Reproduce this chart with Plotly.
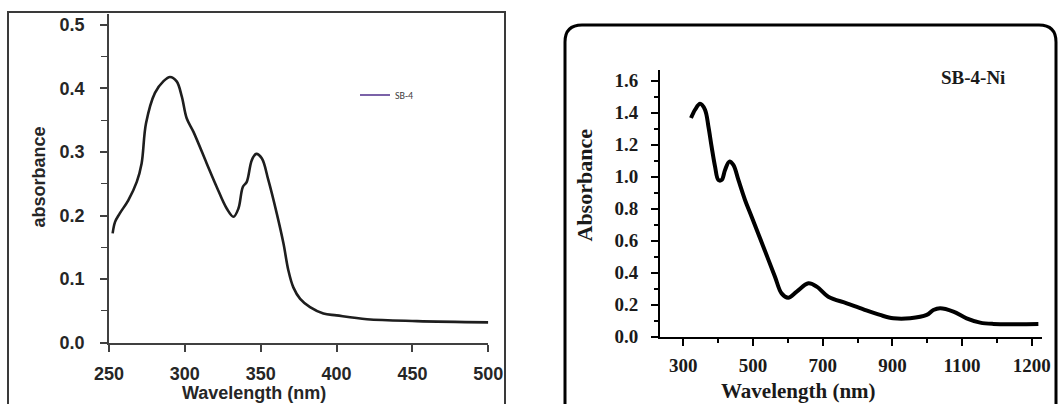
import plotly.graph_objects as go

W, H = 1058, 404

# ---- Left panel data (SB-4) ----
wl_sb4 = [252.4, 254, 257, 262.7, 268.3, 271.5, 274.4, 280.3, 285.8, 290.2, 294.6, 298,
          301.2, 305.6, 314.4, 321, 327.6, 332, 335.3, 338.2, 340.8, 344.1, 347, 350.7,
          355, 360.6, 365, 368.2, 371.5, 376, 382.5, 391.3, 400, 420, 453, 500]
abs_sb4 = [0.172, 0.19, 0.203, 0.224, 0.253, 0.282, 0.345, 0.393, 0.411, 0.418, 0.411, 0.387,
           0.353, 0.332, 0.282, 0.245, 0.211, 0.198, 0.211, 0.245, 0.253, 0.287, 0.297, 0.29,
           0.256, 0.203, 0.156, 0.114, 0.087, 0.069, 0.056, 0.046, 0.043, 0.037, 0.034, 0.032]
left_xticks = [250, 300, 350, 400, 450, 500]
left_yticks = [0.0, 0.1, 0.2, 0.3, 0.4, 0.5]
left_yticktext = ["0.0", "0.1", "0.2", "0.3", "0.4", "0.5"]
left_yminor = [0.05, 0.15, 0.25, 0.35, 0.45]

# ---- Right panel data (SB-4-Ni) ----
wl_ni = [322, 333.6, 348, 362, 372, 381, 391, 400.5, 410, 419.7, 432, 443.5, 458, 477, 496,
         529.6, 563, 582, 601, 625.5, 659, 683, 716, 769, 817, 864.6, 903, 951, 998.6,
         1017.6, 1037, 1075, 1113, 1152, 1190, 1319]
abs_ni = [1.367, 1.419, 1.456, 1.42, 1.314, 1.19, 1.064, 0.98, 0.98, 1.043, 1.095, 1.074,
          0.98, 0.855, 0.75, 0.563, 0.375, 0.271, 0.244, 0.282, 0.334, 0.313, 0.25, 0.209,
          0.171, 0.136, 0.115, 0.115, 0.136, 0.167, 0.178, 0.157, 0.115, 0.088, 0.08, 0.08]
right_xticks = [300, 500, 700, 900, 1100, 1300]
right_xticktext = ["300", "500", "700", "900", "1100", "1200"]
right_xminor = [400, 600, 800, 1000, 1200]
right_yticks = [0.0, 0.2, 0.4, 0.6, 0.8, 1.0, 1.2, 1.4, 1.6]
right_yticktext = ["0.0", "0.2", "0.4", "0.6", "0.8", "1.0", "1.2", "1.4", "1.6"]
right_yminor = [0.1, 0.3, 0.5, 0.7, 0.9, 1.1, 1.3, 1.5]


def px(x):
    return x / W


def py(y):
    return 1 - y / H


fig = go.Figure()
fig.add_trace(go.Scatter(x=wl_sb4, y=abs_sb4, mode="lines", line=dict(color="#1e1e1e", width=2.6),
                         line_shape="spline", showlegend=False, xaxis="x", yaxis="y"))
fig.add_trace(go.Scatter(x=[None], y=[None], mode="lines", name="SB-4",
                         line=dict(color="#7b62a8", width=2.2), xaxis="x", yaxis="y"))
fig.add_trace(go.Scatter(x=wl_ni, y=abs_ni, mode="lines", line=dict(color="black", width=4),
                         line_shape="spline", showlegend=False, xaxis="x2", yaxis="y2"))

sans = "Liberation Sans, Arial, sans-serif"
serif = "Liberation Serif, Times New Roman, serif"
lc = "#404040"

fig.update_layout(
    template="none",
    width=W, height=H, margin=dict(l=0, r=0, t=0, b=0, pad=0), autosize=False,
    paper_bgcolor="white", plot_bgcolor="rgba(0,0,0,0)",
    xaxis=dict(domain=[px(109), px(488.3)], range=[250, 500], anchor="y", automargin=False,
               tickmode="array", tickvals=left_xticks,
               showline=True, linecolor=lc, linewidth=1.6, ticks="outside", ticklen=7,
               tickwidth=1.6, tickcolor=lc, showgrid=False, zeroline=False,
               ticklabelstandoff=7,
               tickfont=dict(family=sans, size=18, color="#262626", weight="bold")),
    yaxis=dict(domain=[py(342.7), py(14)], range=[0, 0.517], anchor="x", automargin=False,
               tickmode="array", tickvals=left_yticks, ticktext=left_yticktext,
               showline=True, linecolor=lc, linewidth=1.6, ticks="outside", ticklen=7,
               tickwidth=1.6, tickcolor=lc, showgrid=False, zeroline=False,
               ticklabelstandoff=12,
               minor=dict(tickvals=left_yminor, ticks="outside", ticklen=6, tickwidth=1.4,
                          tickcolor=lc, showgrid=False),
               tickfont=dict(family=sans, size=18, color="#262626", weight="bold")),
    xaxis2=dict(domain=[px(660), px(1042.2)], range=[233, 1330], anchor="y2", automargin=False,
                tickmode="array", tickvals=right_xticks, ticktext=right_xticktext,
                showline=True, linecolor="black", linewidth=2, ticks="outside", ticklen=7,
                tickwidth=2, tickcolor="black", showgrid=False, zeroline=False,
                ticklabelstandoff=3,
                minor=dict(tickvals=right_xminor, ticks="outside", ticklen=4, tickwidth=1.6,
                           tickcolor="black", showgrid=False),
                tickfont=dict(family=serif, size=19, color="#1a1a1a", weight="bold")),
    yaxis2=dict(domain=[py(336.7), py(69.8)], range=[0, 1.669], anchor="x2", automargin=False,
                tickmode="array", tickvals=right_yticks, ticktext=right_yticktext,
                showline=True, linecolor="black", linewidth=2, ticks="outside", ticklen=7,
                tickwidth=2, tickcolor="black", showgrid=False, zeroline=False,
                ticklabelstandoff=9,
                minor=dict(tickvals=right_yminor, ticks="outside", ticklen=4, tickwidth=1.6,
                           tickcolor="black", showgrid=False),
                tickfont=dict(family=serif, size=19, color="#1a1a1a", weight="bold")),
    showlegend=True,
    legend=dict(x=px(355), y=py(95), xanchor="left", yanchor="middle",
                bgcolor="rgba(0,0,0,0)", borderwidth=0,
                font=dict(family="Carlito, Liberation Sans, sans-serif", size=10, color="#404040")),
    annotations=[
        dict(text="<b>absorbance</b>", x=px(38), y=py(177.5), xref="paper", yref="paper",
             showarrow=False, textangle=-90, xanchor="center", yanchor="middle",
             font=dict(family=sans, size=18, color="#262626")),
        dict(text="<b>Wavelength (nm)</b>", x=px(254), y=py(393), xref="paper", yref="paper",
             showarrow=False, xanchor="center", yanchor="middle",
             font=dict(family=sans, size=18, color="#262626")),
        dict(text="<b>Absorbance</b>", x=px(584), y=py(185.5), xref="paper", yref="paper",
             showarrow=False, textangle=-90, xanchor="center", yanchor="middle",
             font=dict(family=serif, size=22, color="#1a1a1a")),
        dict(text="<b>Wavelength (nm)</b>", x=px(798), y=py(391), xref="paper", yref="paper",
             showarrow=False, xanchor="center", yanchor="middle",
             font=dict(family=serif, size=21, color="#1a1a1a")),
        dict(text="<b>SB-4-Ni</b>", x=px(973), y=py(78), xref="paper", yref="paper",
             showarrow=False, xanchor="center", yanchor="middle",
             font=dict(family=serif, size=19, color="#1a1a1a")),
    ],
)

# left panel frame
fig.add_shape(type="rect", xref="paper", yref="paper", x0=px(8), x1=px(505), y0=py(420), y1=py(12),
              line=dict(color="#3a3a3a", width=2), layer="below")

# right panel rounded border
r = 17
x0, x1, y0 = 565, 1056, 25
path = (f"M {px(x0)},{py(420)} L {px(x0)},{py(y0 + r)} Q {px(x0)},{py(y0)} {px(x0 + r)},{py(y0)} "
        f"L {px(x1 - r)},{py(y0)} Q {px(x1)},{py(y0)} {px(x1)},{py(y0 + r)} L {px(x1)},{py(420)}")
fig.add_shape(type="path", xref="paper", yref="paper", path=path,
              line=dict(color="black", width=3), layer="below")

fig.write_html("out.html", config={"displayModeBar": False},
               post_script="document.body.style.margin='0';document.body.style.overflow='hidden';")
